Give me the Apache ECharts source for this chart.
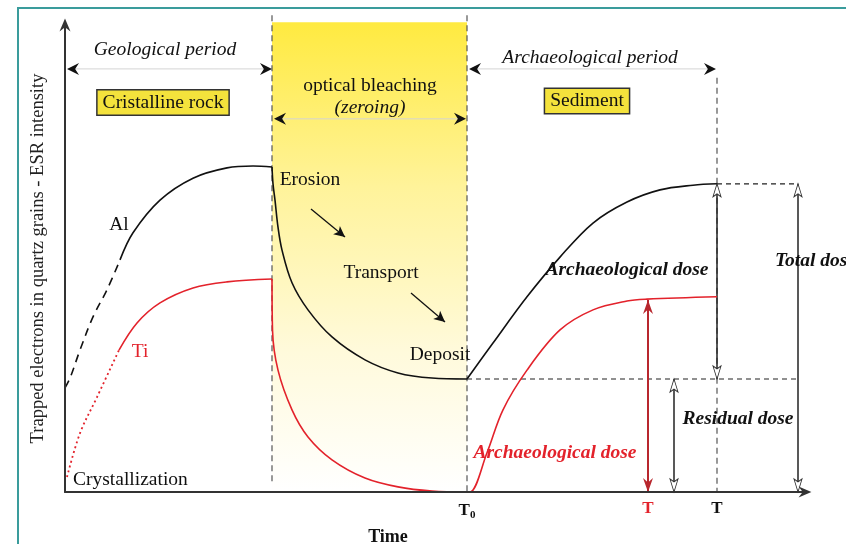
<!DOCTYPE html>
<html>
<head>
<meta charset="utf-8">
<script src="https://cdn.jsdelivr.net/npm/echarts@6/dist/echarts.min.js"></script>
<style>html,body{margin:0;padding:0;background:#fff}#c{width:846px;height:544px}</style>
</head>
<body>
<div id="c"></div>
<script>
// ---- data (x: time units, y: trapped-electron signal units) ----
const alGrowthDashed = [[0,22.3],[1,24.4],[3,30.4],[5.6,37.5],[8.4,43.3],[11,49.7]];
const alGrowth = [[11,49.7],[13.6,55.5],[19,62.5],[25.6,67.2],[32.4,69.4],[37.6,69.8],[41.4,69.6]];
const alBleach = [[41.4,69.6],[41.6,66.0],[42,62.5],[42.6,56.7],[43.4,51.8],[45.4,44.8],[48.6,39.0],[53.4,33.2],[60,28.3],[66.6,25.5],[73.4,24.4],[80.4,24.2]];
const alBurial = [[80.4,24.2],[85.6,31.9],[92.4,41.8],[99,50.3],[105.6,57.6],[112.4,62.1],[119,64.7],[125.6,65.7],[130.4,66.0]];

const tiGrowthDotted = [[0.4,3.2],[3,12.6],[6.4,20.3],[10.8,30.4]];
const tiGrowth = [[10.8,30.4],[14.4,36.2],[19,40.5],[25.6,43.7],[32.4,45.0],[41.4,45.6]];
const tiBleach = [[41.4,45.6],[41.5,34.7],[42.6,26.1],[45.4,17.6],[48.6,11.8],[53.4,6.9],[60,3.0],[66.6,1.1],[73.4,0.2],[80.4,0]];
const tiBurial = [[80.4,0],[81,0],[84.4,8.4],[87.6,17.6],[92.4,26.1],[99,34.7],[105.6,39.0],[112.4,40.9],[116.4,41.3],[130.4,41.8]];

// key times
const tBleachStart = 41.4, tZero = 80.4, tRedT = 116.6, tResidual = 121.8, tT = 130.4, tTotal = 146.6;
// key levels
const alResidual = 24.2, alAtT = 66.0, tiAtT = 41.1;

// tick labels
const tickValues = [tZero, tRedT, tT];
const tickLabels = ['T', 'T', 'T'];
const tickSubs = ['0', '', ''];
const tickRed = [false, true, false];

// annotations
const notes = [
  {t:'Geological period', x:20, y:94.6, k:'it'},
  {t:'Cristalline rock', x:19.6, y:83.4, k:'box'},
  {t:'optical bleaching', x:61, y:86.9, k:'n'},
  {t:'(zeroing)', x:61, y:82.2, k:'it'},
  {t:'Archaeological period', x:105, y:92.9, k:'it'},
  {t:'Sediment', x:104.4, y:83.7, k:'box'},
  {t:'Al', x:10.8, y:57.2, k:'n'},
  {t:'Ti', x:15, y:30.0, k:'red'},
  {t:'Crystallization', x:1.6, y:2.6, k:'nl'},
  {t:'Erosion', x:49, y:66.8, k:'n'},
  {t:'Transport', x:63.2, y:46.9, k:'n'},
  {t:'Deposit', x:75, y:29.3, k:'n'},
  {t:'Archaeological dose', x:112.4, y:47.5, k:'bi'},
  {t:'Archaeological dose', x:98, y:8.4, k:'bired'},
  {t:'Residual dose', x:134.6, y:15.6, k:'bi'},
  {t:'Total dose', x:142, y:49.5, k:'bil'}
];

const FONT = '"Liberation Serif", "DejaVu Serif", serif';
const RED = '#e3222b';
const DARKRED = '#b8272e';
const INK = '#111';

function noteLabel(n){
  const base = {show:true, position:'inside', fontFamily:FONT, fontSize:19.5, color:INK, opacity:1, formatter:n.t};
  if (n.k==='it') base.fontStyle='italic';
  if (n.k==='red') base.color=RED;
  if (n.k==='nl') base.align='left';
  if (n.k==='box') Object.assign(base,{backgroundColor:'#f4e23c', borderColor:'#333', borderWidth:1.5, padding:[3,5,1,5]});
  if (n.k==='bi' || n.k==='bired' || n.k==='bil') Object.assign(base,{fontStyle:'italic', fontWeight:'bold', fontSize:19.5});
  if (n.k==='bired') base.color=RED;
  if (n.k==='bil') base.align='left';
  return base;
}

const ARROW_SOLID = 'path://M6,0 L12,14 L6,9.5 L0,14 Z';
const ARROW_OPEN = 'path://M4,0 L8,14 L4,11 L0,14 Z';
function head(x, y, dir, kind){
  let size, sym, style;
  if (kind==='solid'){ size=[12,12]; sym=ARROW_SOLID; style={color:'#111', opacity:1}; }
  else if (kind==='red'){ size=[10,14]; sym=ARROW_SOLID; style={color:DARKRED, opacity:1}; }
  else { size=[8,13]; sym=ARROW_OPEN; style={color:'#fff', borderColor:'#333', borderWidth:1, opacity:1}; }
  const h = size[1]/2;
  const rot = {up:0, left:90, down:180, right:-90}[dir];
  const off = {up:[0,h], down:[0,-h], left:[h,0], right:[-h,0]}[dir];
  return {value:[x,y], symbol:sym, symbolSize:size, symbolRotate:rot, symbolOffset:off, itemStyle:style};
}

const heads = [
  head(0.4,90.6,'left','solid'), head(41.4,90.6,'right','solid'),
  head(41.8,79.9,'left','solid'), head(80.2,79.9,'right','solid'),
  head(80.8,90.6,'left','solid'), head(130.2,90.6,'right','solid'),
  head(tT,alAtT,'up','open'), head(tT,alResidual,'down','open'),
  head(tTotal,alAtT,'up','open'), head(tTotal,0,'down','open'),
  head(tResidual,alResidual,'up','open'), head(tResidual,0,'down','open'),
  head(tRedT,tiAtT,'up','red'), head(tRedT,0,'down','red')
];

const dashV = {color:'#555', type:[6,4], width:1.2};
const dashH = {color:'#222', type:[5,4], width:1.2};
const gray = {color:'#d4d4d4', type:'solid', width:1};
const doseBlack = {color:'#222', type:'solid', width:1.5};
const doseRed = {color:DARKRED, type:'solid', width:2};
const guides = [
  [[tBleachStart,102.1],[tBleachStart,1.9],dashV],
  [[tZero,102.1],[tZero,0],dashV],
  [[tT,88.7],[tT,0],dashV],
  [[tZero,alResidual],[tTotal,alResidual],dashH],
  [[tT,alAtT],[tTotal,alAtT],dashH],
  [[1,90.6],[40.8,90.6],gray],
  [[42.4,79.9],[79.6,79.9],gray],
  [[81.4,90.6],[129.6,90.6],gray],
  [[tT,alAtT],[tT,alResidual],doseBlack],
  [[tTotal,alAtT],[tTotal,0],doseBlack],
  [[tResidual,alResidual],[tResidual,0],doseBlack],
  [[tRedT,tiAtT],[tRedT,0],doseRed]
];
const pointers = [
  [[49.2,60.6],[56,54.6]],
  [[69.2,42.6],[76,36.4]]
];

function curve(name, data, color, type, width){
  return {name, type:'line', data, smooth:0.35, showSymbol:false, symbol:'none', silent:true, clip:false, z:5,
    lineStyle:{color, type, width}};
}
function guideSeries(g){
  return {type:'line', data:[g[0], g[1]], showSymbol:false, symbol:'none', silent:true, clip:false, z:3, lineStyle:g[2]};
}

const chart = echarts.init(document.getElementById('c'), null, {renderer:'canvas'});
chart.setOption({
  animation:false,
  backgroundColor:'#fff',
  graphic:[{type:'rect', silent:true, shape:{x:18,y:8,width:900,height:600}, style:{fill:'none', stroke:'#3a9c9c', lineWidth:2}}],
  grid:{left:65, top:25, width:740, height:467, containLabel:false, outerBoundsMode:'none'},
  xAxis:{type:'value', min:0, max:148, z:10, splitLine:{show:false}, axisTick:{show:false},
    axisLine:{show:true, lineStyle:{color:'#333', width:2}, symbol:['none','path://M6,0 L12,14 L6,9.5 L0,14 Z'], symbolSize:[11,15]},
    axisLabel:{customValues:tickValues, margin:8, fontFamily:FONT,
      formatter:function(v){ const i = tickValues.indexOf(v); if(i<0) return '';
        return tickRed[i] ? '{r|'+tickLabels[i]+'}' : '{b|'+tickLabels[i]+'}' + (tickSubs[i] ? '{s|'+tickSubs[i]+'}' : ''); },
      rich:{b:{fontFamily:FONT, fontWeight:'bold', fontSize:17, color:INK},
            r:{fontFamily:FONT, fontWeight:'bold', fontSize:17, color:RED},
            s:{fontFamily:FONT, fontWeight:'bold', fontSize:11, color:INK, padding:[10,0,0,0]}}},
    name:'Time', nameLocation:'middle', nameGap:36,
    nameTextStyle:{fontFamily:FONT, fontWeight:'bold', fontSize:18, color:INK, padding:[0,94,0,0]}
  },
  yAxis:{type:'value', min:0, max:100, z:10, splitLine:{show:false}, axisTick:{show:false}, axisLabel:{show:false},
    axisLine:{show:true, lineStyle:{color:'#333', width:2}, symbol:['none','path://M6,0 L12,14 L6,9.5 L0,14 Z'], symbolSize:[11,15]},
    name:'Trapped electrons in quartz grains - ESR intensity', nameLocation:'middle', nameGap:17,
    nameTextStyle:{fontFamily:FONT, fontSize:18.5, color:'#222'}
  },
  series:[
    {type:'line', data:[[tBleachStart,100.6],[tZero,100.6]], showSymbol:false, symbol:'none', silent:true, clip:false, z:1,
      lineStyle:{width:0, opacity:0},
      areaStyle:{opacity:1, origin:'start', color:{type:'linear',x:0,y:0,x2:0,y2:1,colorStops:[
          {offset:0,color:'#ffea40'},{offset:0.35,color:'#fff39a'},{offset:0.7,color:'#fffadb'},{offset:1,color:'#ffffff'}]}}},
    ...guides.map(guideSeries),
    {type:'line', data:[], silent:true, clip:false, z:3,
      markLine:{silent:true, symbol:['none','arrow'], symbolSize:[8,11], label:{show:false}, emphasis:{disabled:true},
        lineStyle:{color:'#111', type:'solid', width:1.3},
        data:pointers.map(p=>[{coord:p[0]},{coord:p[1]}])}},
    curve('Al dashed', alGrowthDashed, INK, [8,6], 1.6),
    curve('Al', alGrowth, INK, 'solid', 1.6),
    curve('Al bleach', alBleach, INK, 'solid', 1.6),
    curve('Al burial', alBurial, INK, 'solid', 1.6),
    curve('Ti dotted', tiGrowthDotted, RED, [2,3], 1.8),
    curve('Ti', tiGrowth, RED, 'solid', 1.6),
    curve('Ti bleach', tiBleach, RED, 'solid', 1.6),
    curve('Ti burial', tiBurial, RED, 'solid', 1.6),
    {type:'scatter', silent:true, clip:false, z:6, data:heads},
    {type:'scatter', silent:true, clip:false, z:7, symbolSize:0, itemStyle:{opacity:1},
      data:notes.map(n=>({value:[n.x,n.y], label:noteLabel(n)}))}
  ]
});
</script>
</body>
</html>
